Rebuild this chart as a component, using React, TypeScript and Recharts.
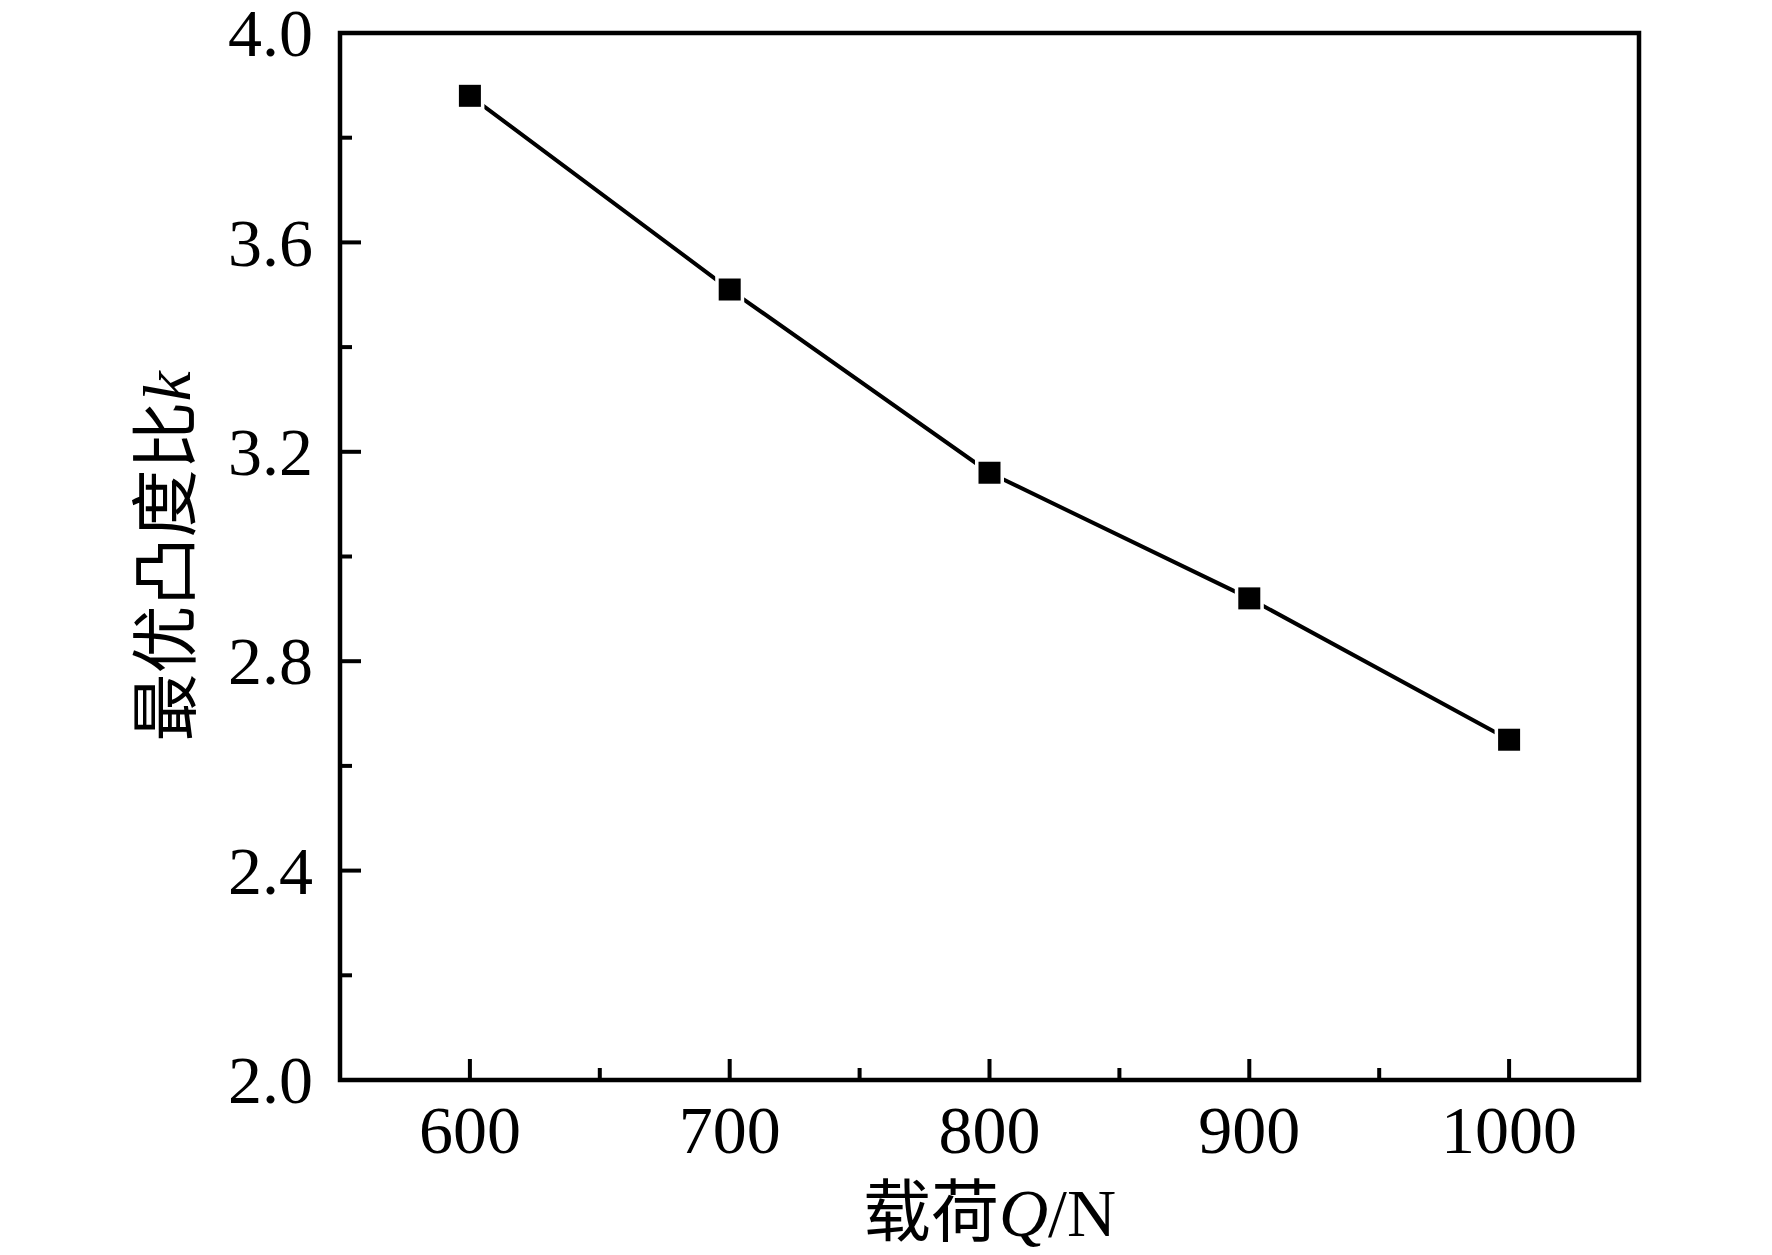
import { LineChart, Line, XAxis, YAxis, ReferenceArea } from 'recharts';

const loads = [600, 700, 800, 900, 1000];
const ratios = [3.88, 3.51, 3.16, 2.92, 2.65];

const xMajor = [600, 700, 800, 900, 1000];
const xMinor = [650, 750, 850, 950];
const yMajor = [2.0, 2.4, 2.8, 3.2, 3.6, 4.0];
const yMinor = [2.2, 2.6, 3.0, 3.4, 3.8];

const data = loads.map((q, i) => ({ q, k: ratios[i] }));

const serif = "'Liberation Serif', 'Times New Roman', serif";
const cjk = "'Noto Sans CJK SC', sans-serif";

const XTick = (props: any) => {
    const { x, y, payload } = props;
    const major = xMajor.includes(payload.value);
    return (
        <g>
            <line x1={x} x2={x} y1={y} y2={y - (major ? 21 : 12)} stroke='#000' strokeWidth={4} />
            {major && (
                <text x={x} y={y + 73} textAnchor='middle' fontFamily={serif} fontSize={68} fill='#000'>
                    {payload.value}
                </text>
            )}
        </g>
    );
};

const YTick = (props: any) => {
    const { x, y, payload } = props;
    const major = yMajor.some(v => Math.abs(v - payload.value) < 1e-6);
    return (
        <g>
            <line x1={x} x2={x + (major ? 21 : 12)} y1={y} y2={y} stroke='#000' strokeWidth={4} />
            {major && (
                <text x={x - 27} y={y} dy='0.34em' textAnchor='end' fontFamily={serif} fontSize={68} fill='#000'>
                    {payload.value.toFixed(1)}
                </text>
            )}
        </g>
    );
};

const Marker = (props: any) => {
    const { cx, cy, index } = props;
    return (
        <rect key={`m-${index}`} x={cx - 12.75} y={cy - 12.75} width={25.5} height={25.5}
            fill='#000' stroke='#fff' strokeWidth={3.5} />
    );
};

const XTitle = (props: any) => {
    const { viewBox } = props;
    return (
        <text x={viewBox.x + viewBox.width / 2} y={viewBox.y + 156} textAnchor='middle' fontSize={68} fill='#000' fontFamily={serif}>
            <tspan fontFamily={cjk}>载荷</tspan>
            <tspan fontStyle='italic'>Q</tspan>
            <tspan>/N</tspan>
        </text>
    );
};

const YTitle = (props: any) => {
    const { viewBox } = props;
    const cx = 190;
    const cy = viewBox.y + viewBox.height / 2;
    return (
        <text x={cx} y={cy} transform={`rotate(-90, ${cx}, ${cy})`} textAnchor='middle' fontSize={68} fill='#000'>
            <tspan fontFamily={cjk}>最优凸度比</tspan>
            <tspan fontFamily={serif} fontStyle='italic'>k</tspan>
        </text>
    );
};

export default function App() {
    return (
        <div style={{ position: 'absolute', left: 0, top: 0, background: '#fff' }}>
            <LineChart
                width={1772}
                height={1255}
                data={data}
                margin={{ top: 33, right: 133, left: 0, bottom: 0 }}
            >
                <XAxis
                    dataKey='q'
                    type='number'
                    domain={[550, 1050]}
                    ticks={[...xMajor, ...xMinor]}
                    interval={0}
                    height={175}
                    axisLine={false}
                    tickLine={false}
                    tickSize={0}
                    tickMargin={0}
                    tick={(p: any) => <XTick {...p} />}
                    label={{ content: (p: any) => <XTitle {...p} /> }}
                />
                <YAxis
                    type='number'
                    domain={[2, 4]}
                    ticks={[...yMajor, ...yMinor]}
                    interval={0}
                    width={340}
                    axisLine={false}
                    tickLine={false}
                    tickSize={0}
                    tickMargin={0}
                    tick={(p: any) => <YTick {...p} />}
                    label={{ content: (p: any) => <YTitle {...p} /> }}
                />
                <ReferenceArea x1={550} x2={1050} y1={2} y2={4} fill='none' stroke='#000' strokeWidth={4.5} />
                <Line
                    type='linear'
                    dataKey='k'
                    stroke='#000'
                    strokeWidth={4}
                    dot={(p: any) => <Marker {...p} />}
                    activeDot={false}
                    isAnimationActive={false}
                />
            </LineChart>
        </div>
    );
}
